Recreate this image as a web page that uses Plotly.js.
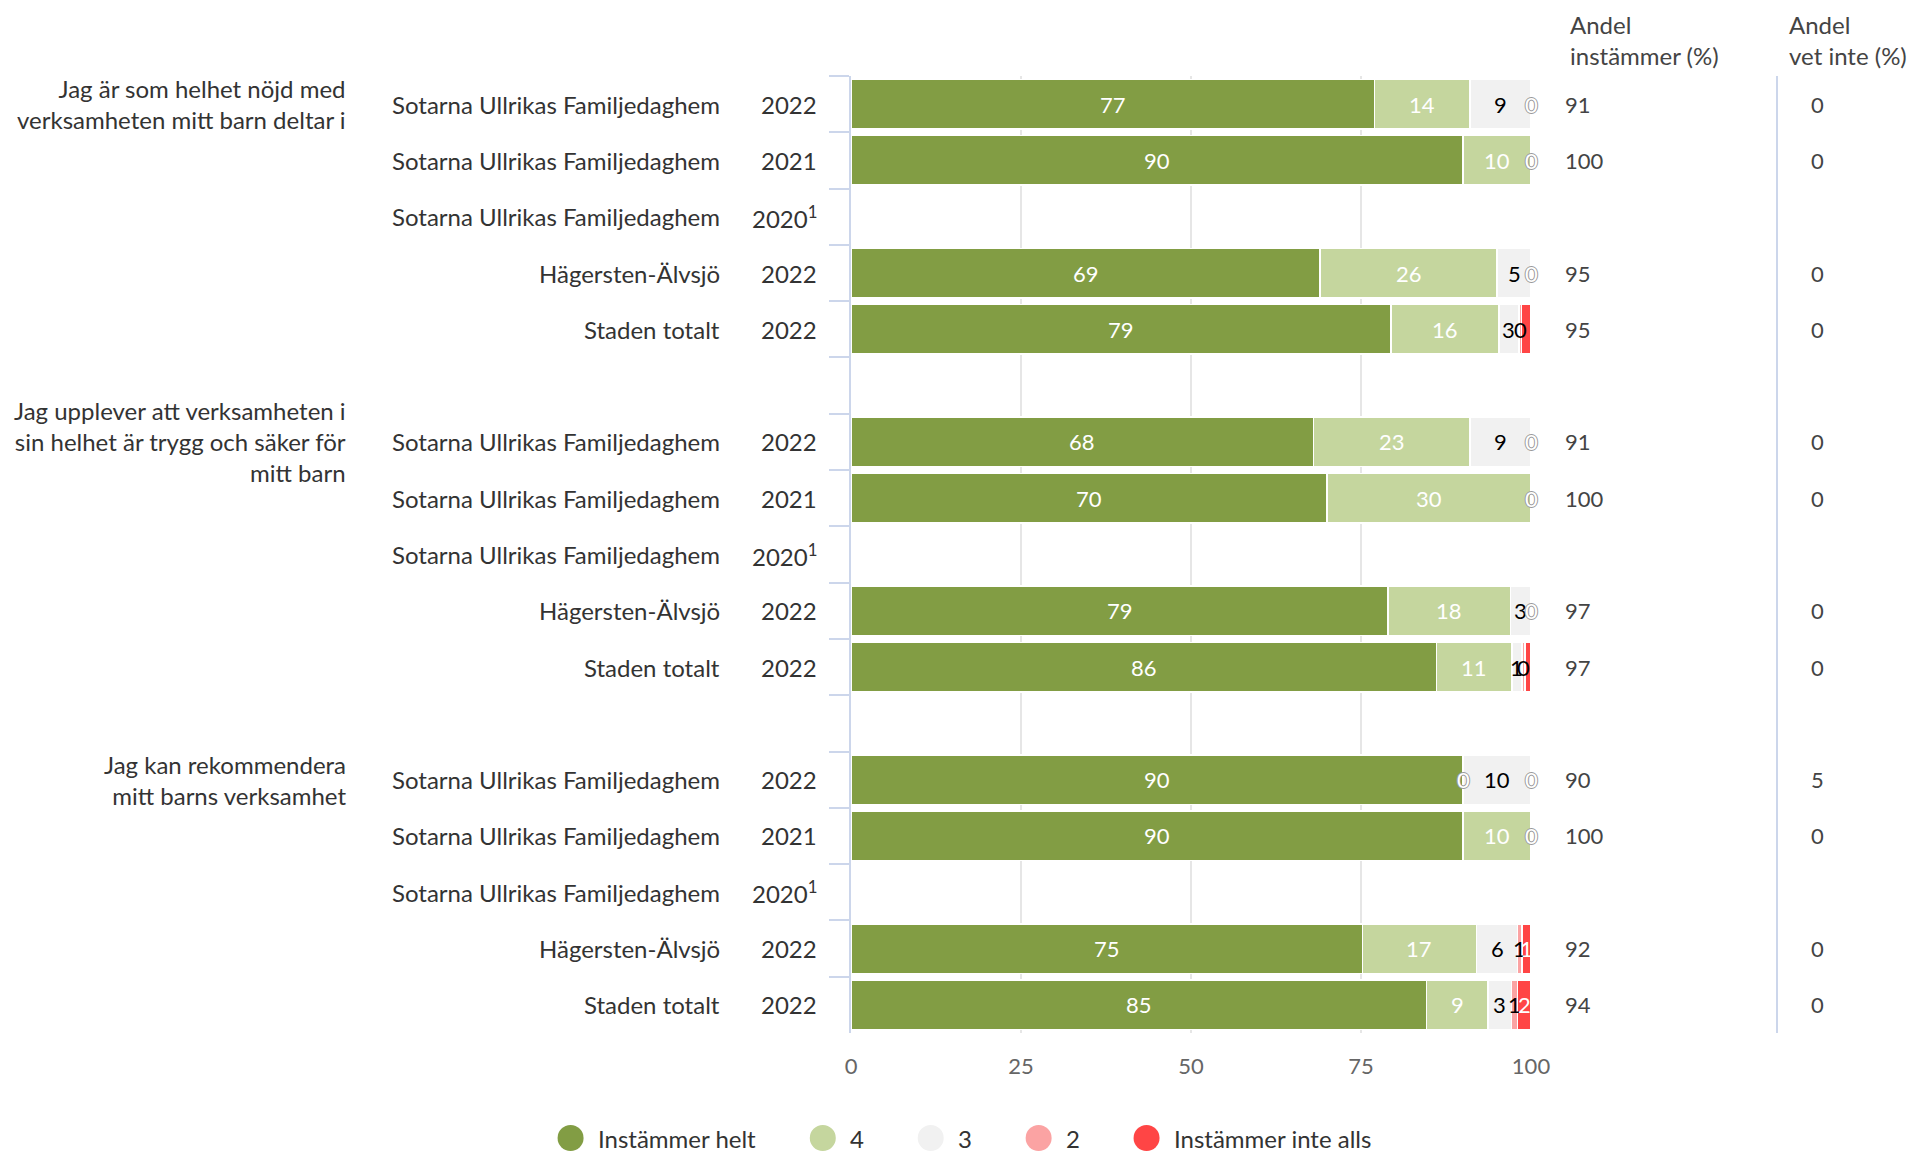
<!DOCTYPE html>
<html><head><meta charset="utf-8">
<script src="https://cdn.plot.ly/plotly-3.0.1.min.js"></script>
<style>html,body{margin:0;padding:0;background:#fff;} #chart{width:1919px;height:1153px;}</style>
</head><body><div id="chart"></div>
<script>
// ---------- DATA ----------
const questions = [
  "Jag är som helhet nöjd med<br>verksamheten mitt barn deltar i",
  "Jag upplever att verksamheten i<br>sin helhet är trygg och säker för<br>mitt barn",
  "Jag kan rekommendera<br>mitt barns verksamhet"
];
const units = ["Sotarna Ullrikas Familjedaghem", "Sotarna Ullrikas Familjedaghem", "Sotarna Ullrikas Familjedaghem", "Hägersten-Älvsjö", "Staden totalt"];
const years = ["2022", "2021", "2020<sup>1</sup>", "2022", "2022"];
const seriesNames = ["Instämmer helt", "4", "3", "2", "Instämmer inte alls"];

// values per row, question by question (5 rows each; 2020 has no data)
const helt = [77, 90, null, 69, 79.4,   68, 70, null, 79, 86.1,   90, 90, null, 75.2, 84.6];
const fyra = [14, 10, null, 26, 15.9,   23, 30, null, 18, 11.1,   0, 10, null, 16.8, 9.1];
const tre  = [9, 0, null, 5, 2.9,       9, 0, null, 3, 1.45,      10, 0, null, 6.0, 3.4];
const tva  = [0, 0, null, 0, 0.4,       0, 0, null, 0, 0.45,      0, 0, null, 0.7, 0.9];
const inte = [0, 0, null, 0, 1.4,       0, 0, null, 0, 0.9,       0, 0, null, 1.3, 2.0];
const andelInstammer = [91, 100, null, 95, 95,   91, 100, null, 97, 97,   90, 100, null, 92, 94];
const andelVetInte   = [0, 0, null, 0, 0,        0, 0, null, 0, 0,        5, 0, null, 0, 0];
const xTicks = [0, 25, 50, 75, 100];
const headerInstammer = "Andel<br>instämmer (%)";
const headerVetInte = "Andel<br>vet inte (%)";

// ---------- STYLE ----------
const colors = ['#829d44', '#c5d69e', '#f1f1f1', '#fba3a3', '#ff4545'];
const labelColors = ['#ffffff', '#ffffff', '#000000', '#000000', '#ffffff'];
const FONT = 'Lato, sans-serif';
const TXT = '#333333';
const W = 1919, H = 1153, L = 851, R = 1531, T = 76, B = 1033;
const plotW = R - L, plotH = B - T;
const toPX = px => (px - L) / plotW;
const toPY = py => (B - py) / plotH;

const series = [helt, fyra, tre, tva, inte];

// categories (with a spacer between question groups)
const rowIds = [], cats = [];
questions.forEach((q, qi) => {
  if (qi > 0) cats.push('gap' + qi);
  units.forEach((u, ri) => { const id = 'q' + qi + 'r' + ri; rowIds.push(id); cats.push(id); });
});

const traces = series.map((vals, si) => ({
  type: 'bar', orientation: 'h', name: seriesNames[si],
  x: vals, y: rowIds,
  marker: {color: colors[si], line: {color: '#ffffff', width: 1.5}},
  showlegend: false, hoverinfo: 'skip'
}));

const annotations = [];
const shapes = [];
const zeroShadow = '#9a9a9a 1px 0 0, #9a9a9a -1px 0 0, #9a9a9a 0 1px 0, #9a9a9a 0 -1px 0';

// bar value labels (a label colliding with the previous one is dropped)
rowIds.forEach((id, i) => {
  let cum = 0, lastShown = -Infinity;
  series.forEach((vals, si) => {
    const v = vals[i];
    if (v === null || v === undefined) return;
    const c = cum + v / 2; cum += v;
    const minGap = si === series.length - 1 ? 0.95 : 0.1;
    if (c - lastShown < minGap) return;
    lastShown = c;
    const zero = v === 0;
    annotations.push({
      x: c, y: id, xref: 'x', yref: 'y', text: String(Math.round(v)), showarrow: false,
      xanchor: 'center', yanchor: 'middle',
      font: {family: FONT, size: 22, color: zero ? '#ffffff' : labelColors[si], shadow: zero ? zeroShadow : 'none'}
    });
  });
});

// row labels, right-hand columns
rowIds.forEach((id, i) => {
  const ri = i % units.length;
  annotations.push({x: toPX(722), y: id, xref: 'paper', yref: 'y', text: units[ri], showarrow: false,
    xanchor: 'right', yanchor: 'middle', font: {family: FONT, size: 24, color: TXT}});
  annotations.push({x: toPX(819), y: id, xref: 'paper', yref: 'y', text: years[ri], showarrow: false,
    xanchor: 'right', yanchor: 'middle', font: {family: FONT, size: 24, color: TXT}});
  if (andelInstammer[i] !== null)
    annotations.push({x: toPX(1563), y: id, xref: 'paper', yref: 'y', text: String(andelInstammer[i]), showarrow: false,
      xanchor: 'left', yanchor: 'middle', font: {family: FONT, size: 22, color: '#444'}});
  if (andelVetInte[i] !== null)
    annotations.push({x: toPX(1809), y: id, xref: 'paper', yref: 'y', text: String(andelVetInte[i]), showarrow: false,
      xanchor: 'left', yanchor: 'middle', font: {family: FONT, size: 22, color: '#444'}});
});

// question labels
questions.forEach((q, qi) => {
  annotations.push({x: toPX(348), y: 'q' + qi + 'r0', xref: 'paper', yref: 'y', text: q, showarrow: false,
    xanchor: 'right', yanchor: 'middle', align: 'right', font: {family: FONT, size: 24, color: TXT}});
});

// column headers
annotations.push({x: toPX(1568), y: toPY(40), xref: 'paper', yref: 'paper', text: headerInstammer, showarrow: false,
  xanchor: 'left', yanchor: 'middle', align: 'left', font: {family: FONT, size: 24, color: '#444'}});
annotations.push({x: toPX(1787), y: toPY(40), xref: 'paper', yref: 'paper', text: headerVetInte, showarrow: false,
  xanchor: 'left', yanchor: 'middle', align: 'left', font: {family: FONT, size: 24, color: '#444'}});

// separator line
shapes.push({type: 'line', xref: 'paper', yref: 'paper', x0: toPX(1777), x1: toPX(1777), y0: 0, y1: 1,
  line: {color: '#ccd6eb', width: 2}});

// legend (built from series names and colours)
const ctx = document.createElement('canvas').getContext('2d');
ctx.font = '24px Lato';
const circleD = 26, textGap = 14, itemGap = 54, legendY = 1138;
const widths = seriesNames.map(n => ctx.measureText(n).width);
const total = widths.reduce((a, w) => a + circleD + textGap + w, 0) + itemGap * (seriesNames.length - 1);
let xpx = W / 2 + 5 - total / 2;
seriesNames.forEach((n, i) => {
  shapes.push({type: 'circle', xref: 'paper', yref: 'paper',
    x0: toPX(xpx), x1: toPX(xpx + circleD), y0: toPY(legendY + circleD / 2), y1: toPY(legendY - circleD / 2),
    fillcolor: colors[i], line: {width: 0}});
  annotations.push({x: toPX(xpx + circleD + textGap - 2), y: toPY(legendY), xref: 'paper', yref: 'paper', text: n,
    showarrow: false, xanchor: 'left', yanchor: 'middle', font: {family: FONT, size: 24, color: TXT}});
  xpx += circleD + textGap + widths[i] + itemGap;
});

const layout = {
  width: W, height: H, autosize: false,
  margin: {l: L, r: W - R, t: T, b: H - B, pad: 0},
  paper_bgcolor: '#ffffff', plot_bgcolor: '#ffffff',
  barmode: 'stack', bargap: 0.12,
  font: {family: FONT, color: TXT},
  xaxis: {range: [0, 100], tickvals: xTicks, ticktext: xTicks.map(String), showgrid: true, gridcolor: '#e6e6e6', gridwidth: 2,
    zeroline: false, showline: false, ticks: '', ticklabelstandoff: 18,
    tickfont: {family: FONT, size: 22, color: '#666'}, fixedrange: true},
  yaxis: {type: 'category', categoryorder: 'array', categoryarray: cats, range: [cats.length - 0.5, -0.5],
    showticklabels: false, ticks: 'outside', tickson: 'boundaries', ticklen: 20, tickwidth: 2, tickcolor: '#ccd6eb',
    showline: true, linecolor: '#ccd6eb', linewidth: 2, showgrid: false, zeroline: false, fixedrange: true},
  annotations: annotations, shapes: shapes, showlegend: false
};

Plotly.newPlot('chart', traces, layout, {displayModeBar: false, staticPlot: true});
</script>
</body></html>
